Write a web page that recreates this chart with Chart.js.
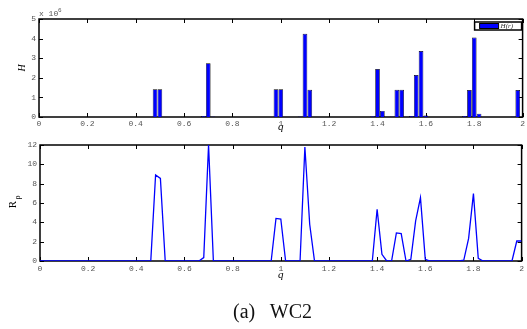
<!DOCTYPE html>
<html><head><meta charset="utf-8">
<script src="https://cdn.jsdelivr.net/npm/chart.js@4"></script>
<style>
html,body{margin:0;padding:0;background:#fff;width:527px;height:329px;overflow:hidden}
#c1{position:absolute;left:0;top:0}
#c2{position:absolute;left:0;top:135px}
#cap{position:absolute;left:9px;width:527px;top:301px;line-height:20px;text-align:center;font-family:"Liberation Serif",serif;font-size:20px;color:#111;white-space:pre}
</style></head><body>
<canvas id="c1" width="527" height="140"></canvas>
<canvas id="c2" width="527" height="150"></canvas>
<div id="cap">(a)   WC2</div>
<script>
// ---- data ----
// Top panel: histogram H(r), bin centres q and heights in units of 10^6 (zero bins omitted)
const hQ = [0.48,0.50,0.68,0.70,0.72,0.98,1.00,1.08,1.10,1.12,1.38,1.40,1.42,1.46,1.48,1.50,1.54,1.56,1.58,1.60,1.76,1.78,1.80,1.82,1.96,1.98];
const hValues = [1.41,1.41,0.05,2.74,0.02,1.41,1.41,0.03,4.25,1.39,0.04,2.45,0.31,0.02,1.39,1.39,0.05,2.14,3.37,0.08,0.05,1.38,4.05,0.17,0.03,1.38];
// Bottom panel: R_rho sampled every 0.02 on [0,2]; only nonzero samples listed
const rQ = [0.48,0.50,0.68,0.70,0.98,1.00,1.10,1.12,1.40,1.42,1.48,1.50,1.54,1.56,1.58,1.60,1.76,1.78,1.80,1.82,1.98,2.00];
const rValues = [8.9,8.55,0.35,12.0,4.4,4.34,11.8,3.8,5.35,0.69,2.9,2.83,0.17,4.14,6.55,0.17,0.1,2.34,6.97,0.28,2.07,2.07];
const qStep = 0.02, qMin = 0, qMax = 2;
const xTicksStep = 0.2;
const hTickMax = 5, rTickMax = 12, rTickStep = 2;

// build full sampled line (zeros where nothing was listed)
const nSamples = Math.round((qMax - qMin) / qStep) + 1;
const rLine = [];
for (let i = 0; i < nSamples; i++) {
  const q = +(qMin + i * qStep).toFixed(2);
  const k = rQ.findIndex(v => Math.abs(v - q) < 1e-9);
  rLine.push({x: q, y: k >= 0 ? rValues[k] : 0});
}

const tickFont = {family: '"Liberation Mono", monospace', size: 8};
const tickColor = '#555';

const framePlugin = {
  id: 'frame',
  beforeDatasetsDraw(chart) {
    const {ctx, chartArea: a, scales} = chart;
    ctx.save();
    ctx.strokeStyle = '#000';
    ctx.lineWidth = 1;
    const tl = 4;
    ctx.beginPath();
    scales.x.ticks.forEach(t => {
      const px = Math.round(scales.x.getPixelForValue(t.value)) + 0.5;
      ctx.moveTo(px, a.bottom); ctx.lineTo(px, a.bottom - tl);
      ctx.moveTo(px, a.top); ctx.lineTo(px, a.top + tl);
    });
    scales.y.ticks.forEach(t => {
      const py = Math.round(scales.y.getPixelForValue(t.value)) + 0.5;
      ctx.moveTo(a.left, py); ctx.lineTo(a.left + tl, py);
      ctx.moveTo(a.right, py); ctx.lineTo(a.right - tl, py);
    });
    ctx.stroke();
    ctx.lineWidth = 1.5;
    ctx.strokeRect(a.left, a.top, a.right - a.left, a.bottom - a.top);
    ctx.restore();
  }
};

function xScale(h, tickPad, titlePad) {
  return {
    type: 'linear', min: qMin, max: qMax, offset: false,
    afterFit(s) { s.height = h; },
    grid: {display: false, drawTicks: false}, border: {display: false},
    ticks: {stepSize: xTicksStep, autoSkip: false, maxRotation: 0, padding: tickPad, font: tickFont, color: tickColor,
      callback: v => String(+v.toFixed(1))},
    title: {display: true, text: 'q', color: '#000',
      font: {family: '"Liberation Serif", serif', size: 11, style: 'italic'}, padding: {top: 0, bottom: titlePad}}
  };
}

// ---- top chart ----
new Chart(document.getElementById('c1'), {
  type: 'bar',
  data: {datasets: [{
    label: 'H(r)',
    data: hQ.map((q, i) => ({x: q, y: hValues[i]})),
    backgroundColor: '#0000FF', borderColor: '#000', borderWidth: 0.7,
    barPercentage: 0.96, categoryPercentage: 1.0
  }]},
  options: {
    responsive: false, animation: false,
    layout: {padding: {top: 19, right: 2, left: 0, bottom: 0}},
    plugins: {legend: {display: false}, tooltip: {enabled: false}},
    scales: {
      x: xScale(23, 2, 6),
      y: {
        min: 0, max: hTickMax,
        afterFit(s) { s.width = 39; },
        grid: {display: false, drawTicks: false}, border: {display: false},
        ticks: {stepSize: 1, padding: 3, font: tickFont, color: tickColor},
        title: {display: true, text: 'H', color: '#000',
          font: {family: '"Liberation Serif", serif', size: 10, style: 'italic'}, padding: {top: 16, bottom: 0}}
      }
    }
  },
  plugins: [framePlugin, {
    id: 'extras1',
    afterDraw(chart) {
      const {ctx, chartArea: a} = chart;
      ctx.save();
      // exponent label
      ctx.fillStyle = tickColor;
      ctx.font = '8px "Liberation Mono", monospace';
      ctx.textBaseline = 'alphabetic';
      ctx.textAlign = 'left';
      ctx.fillText('x 10', a.left, a.top - 3);
      ctx.font = '6px "Liberation Mono", monospace';
      ctx.fillText('6', a.left + 19, a.top - 7);
      // legend
      const ds = chart.data.datasets[0];
      const bx = a.right - 48, by = a.top + 3, bw = 47, bh = 8;
      ctx.fillStyle = '#fff';
      ctx.fillRect(bx, by, bw, bh);
      ctx.strokeStyle = '#000'; ctx.lineWidth = 1.5;
      ctx.strokeRect(bx, by, bw, bh);
      ctx.fillStyle = ds.backgroundColor;
      ctx.fillRect(bx + 5, by + 1.5, 19, 5);
      ctx.lineWidth = 1;
      ctx.strokeRect(bx + 5, by + 1.5, 19, 5);
      ctx.fillStyle = '#333';
      ctx.font = 'italic 7px "Liberation Serif", serif';
      ctx.textBaseline = 'middle';
      ctx.fillText(ds.label, bx + 26, by + bh / 2 + 0.5);
      ctx.restore();
    }
  }]
});

// ---- bottom chart ----
new Chart(document.getElementById('c2'), {
  type: 'line',
  data: {datasets: [{
    label: 'R_rho', data: rLine,
    borderColor: '#0000FF', borderWidth: 1.3, pointRadius: 0, tension: 0, fill: false
  }]},
  options: {
    responsive: false, animation: false,
    layout: {padding: {top: 10, right: 2, left: 0, bottom: 0}},
    plugins: {legend: {display: false}, tooltip: {enabled: false}},
    scales: {
      x: xScale(24, 3, 3),
      y: {
        min: 0, max: rTickMax,
        afterFit(s) { s.width = 40; },
        grid: {display: false, drawTicks: false}, border: {display: false},
        ticks: {stepSize: rTickStep, padding: 3, font: tickFont, color: tickColor}
      }
    }
  },
  plugins: [framePlugin, {
    id: 'extras2',
    afterDraw(chart) {
      const {ctx} = chart;
      ctx.save();
      ctx.translate(13.5, 69.5);
      ctx.rotate(-Math.PI / 2);
      ctx.fillStyle = '#000';
      ctx.textAlign = 'center';
      ctx.textBaseline = 'middle';
      ctx.font = '11px "Liberation Serif", serif';
      ctx.fillText('R', 0, 0);
      ctx.font = '8px "Liberation Serif", serif';
      ctx.fillText('\u03C1', 7, 4);
      ctx.restore();
    }
  }]
});
</script>
</body></html>
